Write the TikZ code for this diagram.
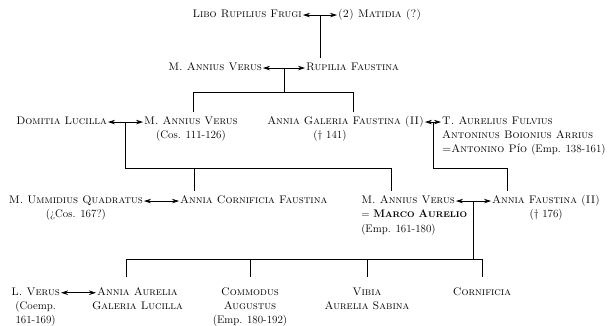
\documentclass[tikz,border=0pt]{standalone}
\usepackage{tikz}
\usetikzlibrary{arrows.meta,calc}
\usetikzlibrary{positioning}
\newcommand{\klein}[1]{{\fontsize{8.2}{10}\selectfont #1}}

\begin{document}
\begin{tikzpicture}[%
x={(1pt,0pt)},
y={(0pt,-1pt)},
person/.style={inner sep=0pt,text height=8pt,text depth=2.5pt,font=\fontsize{11}{13}\selectfont\scshape},
ehe/.style={{Stealth[length=7pt,width=4.5pt]}-{Stealth[length=7pt,width=4.5pt]},shorten <=1pt,shorten >=1pt},
linie/.style={line width=0.7pt},
kind/.style={shorten >=#1},
kind/.default=5pt,
kinder/.style={shorten <=#1,shorten >=#1},
kinder/.default=5pt,
node distance=3.2pt,
]

\useasboundingbox (0,0) rectangle (608,326);

%Personen
\node[person,anchor=base east](libo) at (302,17.8){Libo Rupilius Frugi};
\node[person,anchor=base west](matidia) at (338,17.8){(2) Matidia (?)};

\node[person,anchor=base east](verusA) at (262,70.8){M. Annius Verus};
\node[person,anchor=base west](rupilia) at (306,70.8){Rupilia Faustina};

\node[person,anchor=base east](domitia) at (107,124.8){Domitia Lucilla};
\node[person,anchor=base west](verusB) at (144,124.8){M. Annius Verus};
\node[person,below=of verusB](verusBa){\textup{(Cos. 111-126)}};
\node[person,anchor=base east](galeria) at (424,124.8){Annia Galeria Faustina (II)};
\node[person,anchor=base](galeriaA) at (330,138.5){\textup{(\dag{} 141)}};
\node[person,anchor=base west](antonino) at (442,124.8){T. Aurelius Fulvius};
\node[person,below=of antonino.south west,anchor=north west](antoninoA){Antoninus Boionius Arrius};
\node[person,below=of antoninoA.south west,anchor=north west](antoninoB){=Antonino Pío \textup{(Emp. 138-161)}};

\node[person,anchor=base east](ummidius) at (143,203.8){M. Ummidius Quadratus};
\node[person,below=of ummidius](ummidiusA){\textup{(¿Cos. 167?)}};
\node[person,anchor=base west](cornificiaF) at (180,203.8){Annia Cornificia Faustina};
\node[person,anchor=base east](marco) at (455,203.8){M. Annius Verus};
\node[person,below=of marco.south west,anchor=north west](marcoA){\upshape= {\bfseries M\klein{ARCO} A\klein{URELIO}}};
\node[person,below=of marcoA.south west,anchor=north west](marcoB){\textup{(Emp. 161-180)}};
\node[person,anchor=base west](faustina) at (492,203.8){Annia Faustina (II)};
\node[person,below=of faustina](faustinaA){\textup{(\dag{} 176)}};

\node[person,anchor=base east](lverus) at (60,295.5){L. Verus};
\node[person,below=of lverus](lverusA){\textup{(Coemp.}};
\node[person,below=of lverusA](lverusB){\textup{161-169)}};
\node[person,anchor=base west](lucilla) at (97,295.5){Annia Aurelia};
\node[person,below=of lucilla](lucillaA){Galeria Lucilla};
\node[person,anchor=base](commodus) at (250,295.5){Commodus};
\node[person,below=of commodus](commodusA){Augustus};
\node[person,below=of commodusA](commodusB){\textup{(Emp. 180-192)}};
\node[person,anchor=base](vibia) at (367,295.5){Vibia};
\node[person,below=of vibia](vibiaA){Aurelia Sabina};
\node[person,anchor=base](cornificia) at (482,295.5){Cornificia};

%Ehen
\draw[linie,ehe] (libo) -- (matidia);
\draw[linie,ehe] (verusA) -- (rupilia);
\draw[linie,ehe] (domitia) -- (verusB);
\draw[linie,ehe] (galeria) -- (antonino);
\draw[linie,ehe] (ummidius) -- (cornificiaF);
\draw[linie,ehe] (marco) -- (faustina);
\draw[linie,ehe] (lverus) -- (lucilla);

\coordinate (j1) at ($(libo.east)!0.5!(matidia.west)$);
\coordinate (j2) at ($(verusA.east)!0.5!(rupilia.west)$);
\coordinate (j3) at ($(domitia.east)!0.5!(verusB.west)$);
\coordinate (j4) at ($(galeria.east)!0.5!(antonino.west)$);
\coordinate (j5) at ($(marco.east)!0.5!(faustina.west)$);

%Kinder
\draw[linie,kind] (j1) -- (j1 |- rupilia.north);

\coordinate (k1) at (193,92);
\coordinate (k2) at (353,92);
\draw[linie] (j2) -- (j2 |- k1);
\draw[linie,kinder] (k1 |- verusB.north) -- (k1) -- (k2) -- (k2 |- galeria.north);

\coordinate (k3) at (194,168);
\coordinate (k4) at (391,168);
\coordinate (k5) at (507,168);
\draw[linie,kind] (j3) |- (k4) -- (k4 |- marco.north);
\draw[linie,kind] (k3) -- (k3 |- cornificiaF.north);
\draw[linie,kind] (j4) |- (k5) -- (k5 |- faustina.north);

\coordinate (k6) at (126,259);
\draw[linie] (j5) -- (j5 |- k6);
\draw[linie,kinder=10pt] (k6 |- lucilla.north) -- (k6) -- (cornificia.north |- k6) -- (cornificia.north);
\draw[linie,kind=10pt] (commodus.north |- k6) -- (commodus.north);
\draw[linie,kind=10pt] (vibia.north |- k6) -- (vibia.north);

\end{tikzpicture}
\end{document}
